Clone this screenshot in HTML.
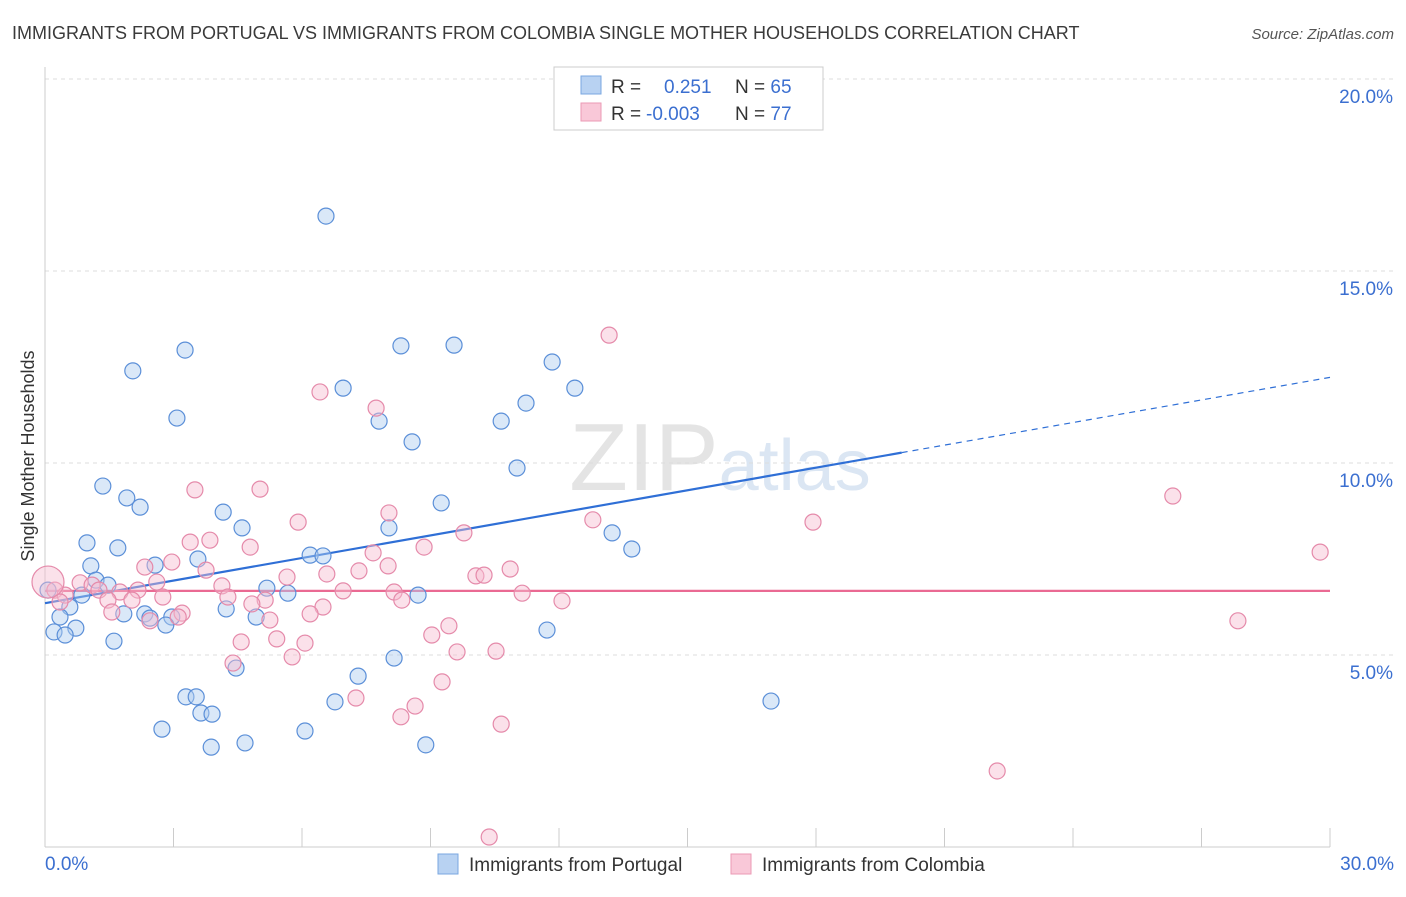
<!DOCTYPE html>
<html><head><meta charset="utf-8"><style>
body{margin:0;background:#fff;font-family:"Liberation Sans",sans-serif}
svg text{font-family:"Liberation Sans",sans-serif}
</style></head><body>
<svg id="chart" width="1406" height="892" xmlns="http://www.w3.org/2000/svg">
<text x="12" y="39" font-size="18" fill="#3a3a3a">IMMIGRANTS FROM PORTUGAL VS IMMIGRANTS FROM COLOMBIA SINGLE MOTHER HOUSEHOLDS CORRELATION CHART</text>
<text x="1394" y="39" font-size="15" fill="#555" text-anchor="end" font-style="italic">Source: ZipAtlas.com</text>
<text x="720" y="490" font-size="96" fill="#e4e4e4" text-anchor="middle" font-family="Liberation Serif">ZIP<tspan fill="#dbe6f3" font-family="Liberation Sans" font-size="72">atlas</tspan></text>
<text transform="translate(34,456) rotate(-90)" font-size="18" fill="#333" text-anchor="middle">Single Mother Households</text>
<g id="grid"></g><g id="axes"></g><g id="trends"></g><g id="pts"></g>
<g>
<rect x="554" y="67" width="269" height="63" fill="#fff" stroke="#ccc"/>
<rect x="581" y="76" width="20" height="18" fill="#b8d2f2" stroke="#7aa7e0"/>
<rect x="581" y="103" width="20" height="18" fill="#f9c8d8" stroke="#eb9ab5"/>
<text x="611" y="93" font-size="19" fill="#333">R =  <tspan fill="#3b6fd0" x="664">0.251</tspan><tspan x="735" fill="#333">N = </tspan><tspan fill="#3b6fd0">65</tspan></text>
<text x="611" y="120" font-size="19" fill="#333">R = <tspan fill="#3b6fd0" x="646">-0.003</tspan><tspan x="735" fill="#333">N = </tspan><tspan fill="#3b6fd0">77</tspan></text>
</g>
<g>
<rect x="438" y="854" width="20" height="20" fill="#b8d2f2" stroke="#7aa7e0"/>
<text x="469" y="871" font-size="19" fill="#333">Immigrants from Portugal</text>
<rect x="731" y="854" width="20" height="20" fill="#f9c8d8" stroke="#eb9ab5"/>
<text x="762" y="871" font-size="19" fill="#333">Immigrants from Colombia</text>
</g>
</svg>
<script>
const yTicks=[5,10,15,20];
const yTickLabels=["5.0%","10.0%","15.0%","20.0%"];
const xTickLabels=["0.0%","30.0%"];
const portugalX=[6.56,3.27,2.05,3.08,8.31,9.55,11.84,12.37,6.96,7.80,11.23,10.65,8.57,11.02,1.35,1.91,2.22,4.16,9.25,4.60,8.03,13.24,13.70,0.98,1.70,6.19,6.49,3.57,2.57,1.07,1.19,1.47,5.18,5.67,8.71,0.86,0.07,0.58,0.35,1.84,2.33,2.45,2.96,4.23,4.93,2.82,0.72,0.21,0.47,1.61,11.72,8.15,4.46,7.31,3.29,3.53,3.64,3.90,6.77,16.95,2.73,6.07,4.67,3.88,8.89];
const portugalY=[16.43,12.94,12.40,11.17,13.05,13.07,12.63,11.95,11.95,11.09,11.56,11.09,10.55,9.87,9.40,9.09,8.85,8.72,8.96,8.31,8.31,8.18,7.76,7.92,7.79,7.60,7.58,7.50,7.34,7.32,6.95,6.82,6.74,6.61,6.56,6.56,6.69,6.25,5.99,6.07,6.07,5.96,5.99,6.20,5.99,5.78,5.70,5.60,5.52,5.36,5.65,4.92,4.66,4.45,3.91,3.91,3.49,3.46,3.78,3.80,3.07,3.02,2.71,2.60,2.66];
const colombiaX=[13.17,6.42,7.73,26.33,3.50,5.02,17.93,12.79,5.91,8.03,9.78,29.77,3.85,3.39,4.79,8.85,7.66,2.33,2.96,3.76,8.01,7.33,10.86,10.06,10.25,5.65,6.58,2.61,4.13,0.82,1.10,1.26,1.75,2.17,0.23,0.47,6.96,8.15,11.14,2.75,4.27,5.14,8.33,12.07,2.03,1.47,4.83,0.35,6.49,6.19,3.20,3.11,2.45,5.25,1.56,9.43,9.03,27.85,5.41,4.58,6.07,9.62,10.53,5.77,4.39,9.27,7.26,8.64,8.31,10.65,22.23,10.37,0.07];
const colombiaY=[13.33,11.85,11.43,9.14,9.30,9.32,8.46,8.52,8.46,8.70,8.18,7.68,7.99,7.94,7.81,7.81,7.66,7.29,7.42,7.21,7.32,7.19,7.24,7.06,7.08,7.03,7.11,6.90,6.80,6.88,6.82,6.69,6.64,6.69,6.69,6.56,6.67,6.64,6.61,6.51,6.51,6.43,6.43,6.41,6.43,6.43,6.33,6.38,6.25,6.07,6.09,5.99,5.89,5.91,6.12,5.76,5.52,5.89,5.42,5.34,5.31,5.08,5.10,4.95,4.79,4.30,3.88,3.67,3.39,3.20,1.98,0.26,6.90];
const trendPortugal=[6.35,0.196];
const trendColombia=[6.67,0.0];
const NS="http://www.w3.org/2000/svg";
const X0=45,X1=1330,Y0=847,PY=38.4;
function sx(v){return X0+v/30*(X1-X0);}
function sy(v){return Y0-v*PY;}
function mk(tag,attrs,parent){const e=document.createElementNS(NS,tag);for(const k in attrs)e.setAttribute(k,attrs[k]);document.getElementById(parent).appendChild(e);return e;}
yTicks.forEach((t,i)=>{
 const g=mk('line',{x1:X0,x2:1394,y1:sy(t),y2:sy(t),stroke:'#ddd','stroke-dasharray':'4,4'},'grid');
 
 
 const l=mk('text',{x:1393,y:sy(t)+24,'font-size':19,fill:'#3b6fd0','text-anchor':'end'},'grid');
 l.textContent=yTickLabels[i];
 
 
});
const ax=mk('line',{x1:X0,x2:X0,y1:67,y2:Y0,stroke:'#ccc'},'axes');


const bx=mk('line',{x1:X0,x2:X1,y1:Y0,y2:Y0,stroke:'#ccc'},'axes');


for(let i=0;i<=10;i++){
 const t=mk('line',{x1:sx(i*3),x2:sx(i*3),y1:828,y2:Y0,stroke:'#ccc'},'axes');
 
 
}
[[0,'start',45],[30,'end',1394]].forEach((d,i)=>{
 const l=mk('text',{x:d[2],y:870,'font-size':19,fill:'#3b6fd0','text-anchor':d[1]},'axes');
 l.textContent=xTickLabels[i];
 
 
});
function pts(xs,ys,fill,stroke,name){
 xs.forEach((x,i)=>{
  const c=mk('circle',{cx:sx(x),cy:sy(ys[i]),r:(i==xs.length-1&&x<0.2)?16:8,fill:fill,'fill-opacity':0.45,stroke:stroke,'stroke-width':1.2},'pts');
  
  
 });
}
pts(portugalX,portugalY,'#aecbf0','#5b8fd8','portugal-point');
pts(colombiaX,colombiaY,'#f7bcd0','#e58aaa','colombia-point');
const b1=mk('line',{x1:sx(0),y1:sy(trendPortugal[0]),x2:sx(20),y2:sy(trendPortugal[0]+20*trendPortugal[1]),stroke:'#2f6fd6','stroke-width':2.2},'trends');


const b2=mk('line',{x1:sx(20),y1:sy(trendPortugal[0]+20*trendPortugal[1]),x2:sx(30),y2:sy(trendPortugal[0]+30*trendPortugal[1]),stroke:'#2f6fd6','stroke-width':1.2,'stroke-dasharray':'6,5'},'trends');


const p1=mk('line',{x1:sx(0),y1:sy(trendColombia[0]),x2:sx(30),y2:sy(trendColombia[0]+30*trendColombia[1]),stroke:'#ea6a93','stroke-width':2.2},'trends');


</script>
</body></html>
